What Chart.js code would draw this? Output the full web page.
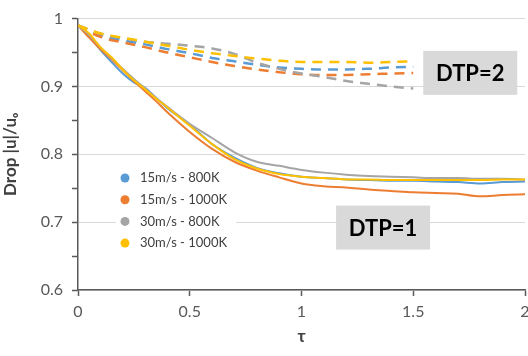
<!DOCTYPE html>
<html>
<head>
<meta charset="utf-8">
<script src="https://cdn.jsdelivr.net/npm/chart.js@4"></script>
<style>
  html, body { margin: 0; padding: 0; background: #fff; overflow: hidden; }
  #wrap { width: 560px; height: 356px; }
</style>
</head>
<body>
<div id="wrap"><canvas id="myChart" width="560" height="356"></canvas></div>
<script>
// time axis for the measured (solid) curves, DTP=1
const tauSolid = [0, 0.05, 0.1, 0.15, 0.2, 0.25, 0.3, 0.35, 0.4, 0.5, 0.6, 0.7, 0.8, 0.9, 1.0, 1.1, 1.2, 1.3, 1.4, 1.5, 1.6, 1.7, 1.8, 1.9, 2.0];
const blue1   = [0.99, 0.974, 0.954, 0.936, 0.919, 0.906, 0.898, 0.883, 0.868, 0.844, 0.815, 0.795, 0.780, 0.772, 0.767, 0.765, 0.763, 0.762, 0.761, 0.761, 0.760, 0.759, 0.757, 0.759, 0.760];
const orange1 = [0.99, 0.972, 0.955, 0.940, 0.924, 0.908, 0.893, 0.878, 0.862, 0.833, 0.808, 0.789, 0.776, 0.766, 0.757, 0.753, 0.751, 0.748, 0.746, 0.744, 0.743, 0.742, 0.738, 0.740, 0.741];
const gray1   = [0.99, 0.976, 0.958, 0.942, 0.926, 0.911, 0.897, 0.883, 0.870, 0.845, 0.824, 0.803, 0.789, 0.783, 0.777, 0.773, 0.770, 0.768, 0.767, 0.766, 0.765, 0.765, 0.764, 0.764, 0.763];
const yellow1 = [0.99, 0.978, 0.958, 0.943, 0.925, 0.909, 0.896, 0.882, 0.869, 0.842, 0.815, 0.793, 0.779, 0.771, 0.767, 0.765, 0.763, 0.763, 0.762, 0.762, 0.762, 0.762, 0.762, 0.763, 0.763];

// dashed curves, DTP=2
const tauDash = [0, 0.1, 0.2, 0.3, 0.4, 0.5, 0.6, 0.7, 0.8, 0.9, 1.0, 1.1, 1.2, 1.3, 1.4, 1.5];
const blue2   = [0.99, 0.976, 0.968, 0.962, 0.955, 0.949, 0.942, 0.937, 0.932, 0.928, 0.926, 0.925, 0.925, 0.926, 0.928, 0.929];
const orange2 = [0.99, 0.973, 0.965, 0.958, 0.950, 0.943, 0.936, 0.930, 0.925, 0.921, 0.918, 0.917, 0.917, 0.918, 0.919, 0.920];
const gray2   = [0.99, 0.978, 0.971, 0.966, 0.963, 0.960, 0.956, 0.948, 0.935, 0.926, 0.919, 0.914, 0.908, 0.904, 0.900, 0.897];
const yellow2 = [0.99, 0.978, 0.972, 0.966, 0.960, 0.954, 0.949, 0.945, 0.941, 0.938, 0.936, 0.936, 0.936, 0.935, 0.936, 0.937];

const seriesNames = ["15m/s - 800K", "15m/s - 1000K", "30m/s - 800K", "30m/s - 1000K"];
const colors = ["#5B9BD5", "#ED7D31", "#A5A5A5", "#FFC000"];

// text boxes placed in data units
const boxLabels = [
  { text: "DTP=2", x: 1.755, y: 0.92 },
  { text: "DTP=1", x: 1.365, y: 0.692 },
];

const FONT = "Lato, 'Liberation Sans', sans-serif";
const AXIS = "#595959";

function pts(xs, ys) {
  return xs.map((x, i) => ({ x: x, y: ys[i] }));
}

const solid = [blue1, orange1, gray1, yellow1];
const dashed = [blue2, orange2, gray2, yellow2];
const drawOrder = [3, 2, 1, 0]; // yellow ends up on top

const datasets = [];
solid.forEach((s, i) => {
  datasets.push({
    label: seriesNames[i],
    data: pts(tauSolid, s),
    borderColor: colors[i],
    borderWidth: 2,
    pointRadius: 0,
    cubicInterpolationMode: "monotone",
    order: drawOrder[i],
  });
});
dashed.forEach((s, i) => {
  datasets.push({
    label: seriesNames[i] + " (DTP=2)",
    data: pts(tauDash, s),
    borderColor: colors[i],
    borderWidth: 2.5,
    borderDash: [10, 7],
    pointRadius: 0,
    cubicInterpolationMode: "monotone",
    order: drawOrder[i] + 4,
  });
});

// legend inside the plot + grey label boxes
const overlay = {
  id: "overlay",
  afterDatasetsDraw(chart) {
    const ctx = chart.ctx;
    const xs = chart.scales.x, ys = chart.scales.y;

    // legend
    ctx.save();
    ctx.fillStyle = "#fff";
    ctx.fillRect(116, 166, 120, 88);
    ctx.font = "13px " + FONT;
    ctx.textBaseline = "middle";
    seriesNames.forEach((name, i) => {
      const cy = 178 + i * 21.7;
      ctx.fillStyle = colors[i];
      ctx.beginPath();
      ctx.arc(125, cy, 4.5, 0, Math.PI * 2);
      ctx.fill();
      ctx.fillStyle = "#404040";
      ctx.fillText(name, 140, cy);
    });

    // DTP boxes
    ctx.font = "bold 22px " + FONT;
    ctx.textAlign = "center";
    boxLabels.forEach(b => {
      const cx = xs.getPixelForValue(b.x);
      const cy = ys.getPixelForValue(b.y);
      ctx.fillStyle = "#D9D9D9";
      ctx.fillRect(cx - 47, cy - 22, 94, 44);
      ctx.fillStyle = "#000";
      ctx.fillText(b.text, cx, cy + 1);
    });
    ctx.restore();
  },
};

const isMajor = v => Math.abs(Math.round(v * 10) - v * 10) < 1e-6;

new Chart(document.getElementById("myChart"), {
  type: "line",
  data: { datasets: datasets },
  plugins: [overlay],
  options: {
    responsive: false,
    animation: false,
    layout: { padding: { top: 15, right: 35, left: 0, bottom: 0 } },
    plugins: { legend: { display: false }, tooltip: { enabled: false } },
    scales: {
      x: {
        type: "linear",
        min: 0,
        max: 2,
        afterFit: s => { s.height = 66; },
        border: { color: AXIS, width: 1.5 },
        grid: { drawOnChartArea: false, tickColor: AXIS, tickLength: 6, tickWidth: 1.5 },
        ticks: {
          stepSize: 0.5,
          color: AXIS,
          padding: 6,
          font: { family: FONT, size: 16 },
          callback: v => String(v),
        },
        title: { display: true, text: "τ", color: "#404040", padding: { top: 0, bottom: 9 }, font: { family: FONT, size: 17, weight: "bold" } },
      },
      y: {
        min: 0.6,
        max: 1,
        afterFit: s => { s.width = 78; },
        border: { color: AXIS, width: 1.5 },
        grid: {
          color: c => (isMajor(c.tick.value) ? "#D9D9D9" : "rgba(0,0,0,0)"),
          tickColor: AXIS,
          tickLength: 6,
          tickWidth: 1.5,
        },
        ticks: {
          stepSize: 0.05,
          color: AXIS,
          padding: 9,
          font: { family: FONT, size: 16 },
          callback: v => (isMajor(v) ? String(Math.round(v * 10) / 10) : ""),
        },
        title: { display: true, text: "Drop |u|/uₒ", color: "#404040", padding: { top: 0, bottom: 3 }, font: { family: FONT, size: 17, weight: "bold" } },
      },
    },
  },
});
</script>
</body>
</html>
